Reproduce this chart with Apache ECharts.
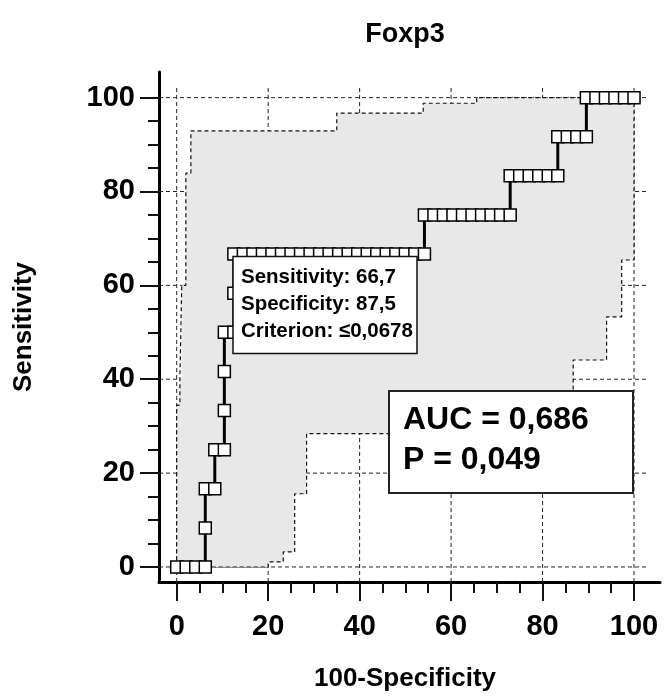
<!DOCTYPE html>
<html>
<head>
<meta charset="utf-8">
<script src="https://cdn.jsdelivr.net/npm/echarts@6/dist/echarts.min.js"></script>
<style>html,body{margin:0;padding:0;background:#fff}#c{width:664px;height:697px}</style>
</head>
<body>
<div id="c"></div>
<script>
// ---- data ----
const titleText = 'Foxp3';
const xName = '100-Specificity';
const yName = 'Sensitivity';
const majorTicks = [0, 20, 40, 60, 80, 100];
const minorTicks = [5, 10, 15, 25, 30, 35, 45, 50, 55, 65, 70, 75, 85, 90, 95];
// ROC curve points (100-Specificity, Sensitivity)
const rocX = [0, 2.08, 4.17, 6.25, 6.25, 6.25, 8.33, 8.33, 10.42, 10.42, 10.42, 10.42, 12.5, 12.5, 12.5,
  14.58, 16.67, 18.75, 20.83, 22.92, 25, 27.08, 29.17, 31.25, 33.33, 35.42, 37.5, 39.58, 41.67, 43.75, 45.83, 47.92, 50, 52.08, 54.17,
  54.17, 56.25, 58.33, 60.42, 62.5, 64.58, 66.67, 68.75, 70.83, 72.92,
  72.92, 75, 77.08, 79.17, 81.25, 83.33,
  83.33, 85.42, 87.5, 89.58,
  89.58, 91.67, 93.75, 95.83, 97.92, 100];
const rocY = [0, 0, 0, 0, 8.33, 16.67, 16.67, 25, 25, 33.33, 41.67, 50, 50, 58.33, 66.67,
  66.67, 66.67, 66.67, 66.67, 66.67, 66.67, 66.67, 66.67, 66.67, 66.67, 66.67, 66.67, 66.67, 66.67, 66.67, 66.67, 66.67, 66.67, 66.67, 66.67,
  75, 75, 75, 75, 75, 75, 75, 75, 75, 75,
  83.33, 83.33, 83.33, 83.33, 83.33, 83.33,
  91.67, 91.67, 91.67, 91.67,
  100, 100, 100, 100, 100, 100];
// 95% confidence bounds
const upperX = [0, 0, 0.7, 0.7, 1.1, 1.1, 2.0, 2.0, 3.1, 3.1, 35.0, 35.0, 53.9, 53.9, 65.6, 65.6, 100];
const upperY = [0, 34.5, 34.5, 40.2, 40.2, 60, 60, 83.9, 83.9, 92.9, 92.9, 96.7, 96.7, 98.8, 98.8, 100, 100];
const lowerX = [0, 20, 20, 23.3, 23.3, 25.8, 25.8, 28.4, 28.4, 86.7, 86.7, 94.0, 94.0, 97.3, 97.3, 100, 100];
const lowerY = [0, 0, 1.1, 1.1, 3.2, 3.2, 15.6, 15.6, 28.4, 28.4, 44.1, 44.1, 53.3, 53.3, 65.4, 65.4, 100];
const criterionLines = ['Sensitivity: 66,7', 'Specificity: 87,5', 'Criterion: \u22640,0678'];
const statLines = ['AUC = 0,686', 'P = 0,049'];

// ---- chart ----
const FONT = '"Liberation Sans", Arial, sans-serif';
const X_MIN = -3.87, X_MAX = 105.68, Y_MIN = -3.2, Y_MAX = 105.46;
const GRID_END = 103;

const zip = (a, b) => a.map((v, i) => [v, b[i]]);
const rocData = zip(rocX, rocY);
const upperData = zip(upperX, upperY);
const lowerData = zip(lowerX, lowerY);

const chart = echarts.init(document.getElementById('c'), null, {renderer: 'canvas'});

const gridStyle = {stroke: '#222', lineWidth: 1, lineDash: [4, 3]};
const boldText = (size) => ({fontFamily: FONT, fontWeight: 'bold', fontSize: size, fill: '#000'});

const option = {
  animation: false,
  backgroundColor: '#fff',
  grid: {left: 159, right: 4, top: 72, bottom: 115, containLabel: false},
  xAxis: [{
    type: 'value', min: X_MIN, max: X_MAX, position: 'bottom',
    axisLine: {show: true, onZero: false, lineStyle: {color: '#000', width: 3}},
    axisTick: {show: true, customValues: majorTicks, length: 19, lineStyle: {color: '#111', width: 2}},
    axisLabel: {show: true, customValues: majorTicks, margin: 30, fontFamily: FONT, fontWeight: 'bold', fontSize: 29, color: '#000'},
    splitLine: {show: false}
  }, {
    type: 'value', min: X_MIN, max: X_MAX, position: 'bottom',
    axisLine: {show: false, onZero: false},
    axisTick: {show: true, customValues: minorTicks, length: 11, lineStyle: {color: '#111', width: 2}},
    axisLabel: {show: false},
    splitLine: {show: false}
  }],
  yAxis: [{
    type: 'value', min: Y_MIN, max: Y_MAX, position: 'left',
    name: yName, nameLocation: 'middle', nameGap: 122, nameRotate: 90,
    nameTextStyle: {fontFamily: FONT, fontWeight: 'bold', fontSize: 26, color: '#000'},
    axisLine: {show: true, onZero: false, lineStyle: {color: '#000', width: 3}},
    axisTick: {show: true, customValues: majorTicks, length: 19, lineStyle: {color: '#111', width: 2}},
    axisLabel: {show: true, customValues: majorTicks, margin: 24, fontFamily: FONT, fontWeight: 'bold', fontSize: 29, color: '#000'},
    splitLine: {show: false}
  }, {
    type: 'value', min: Y_MIN, max: Y_MAX, position: 'left',
    axisLine: {show: false, onZero: false},
    axisTick: {show: true, customValues: minorTicks, length: 11, lineStyle: {color: '#111', width: 2}},
    axisLabel: {show: false},
    splitLine: {show: false}
  }],
  series: [
    { // horizontal grid lines
      type: 'custom', z: 1, silent: true,
      data: majorTicks.map(v => [v]),
      renderItem: (params, api) => {
        const v = api.value(0);
        const p1 = api.coord([X_MIN, v]), p2 = api.coord([GRID_END, v]);
        return {type: 'line', shape: {x1: p1[0], y1: p1[1], x2: p2[0], y2: p2[1]}, style: gridStyle};
      }
    },
    { // vertical grid lines
      type: 'custom', z: 1, silent: true,
      data: majorTicks.map(v => [v]),
      renderItem: (params, api) => {
        const v = api.value(0);
        const p1 = api.coord([v, Y_MIN]), p2 = api.coord([v, GRID_END - 0.7]);
        return {type: 'line', shape: {x1: p1[0], y1: p1[1], x2: p2[0], y2: p2[1]}, style: gridStyle};
      }
    },
    { // confidence band fill
      type: 'custom', z: 2, silent: true,
      data: [[0]],
      renderItem: (params, api) => {
        const pts = upperData.concat(lowerData.slice().reverse()).map(p => api.coord(p));
        return {type: 'polygon', shape: {points: pts}, style: {fill: '#e8e8e8', stroke: null}};
      }
    },
    {
      type: 'line', z: 3, data: upperData, showSymbol: false, silent: true,
      lineStyle: {color: '#111', width: 1.2, type: [4, 3]}
    },
    {
      type: 'line', z: 3, data: lowerData, showSymbol: false, silent: true,
      lineStyle: {color: '#111', width: 1.2, type: [4, 3]}
    },
    {
      type: 'line', z: 5, data: rocData, symbol: 'rect', symbolSize: [12, 12], showSymbol: true,
      showAllSymbol: true,
      lineStyle: {color: '#000', width: 3},
      itemStyle: {color: '#fff', borderColor: '#000', borderWidth: 1.5}
    }
  ],
  graphic: [
    {type: 'text', x: 405, y: 21, style: Object.assign(boldText(27), {text: titleText, textAlign: 'center', textVerticalAlign: 'top'}), z: 100},
    {type: 'text', x: 405, y: 666, style: Object.assign(boldText(26), {text: xName, textAlign: 'center', textVerticalAlign: 'top'}), z: 100},
    {type: 'rect', shape: {x: 233, y: 256.5, width: 184, height: 97}, style: {fill: '#fff', stroke: '#111', lineWidth: 1.5}, z: 100},
    {type: 'text', x: 241, y: 277, style: Object.assign(boldText(20.5), {text: criterionLines[0], textVerticalAlign: 'middle'}), z: 101},
    {type: 'text', x: 241, y: 304, style: Object.assign(boldText(20.5), {text: criterionLines[1], textVerticalAlign: 'middle'}), z: 101},
    {type: 'text', x: 241, y: 331, style: Object.assign(boldText(20.5), {text: criterionLines[2], textVerticalAlign: 'middle'}), z: 101},
    {type: 'rect', shape: {x: 389, y: 391, width: 244, height: 102}, style: {fill: '#fff', stroke: '#222', lineWidth: 2}, z: 100},
    {type: 'text', x: 403, y: 420, style: Object.assign(boldText(32), {text: statLines[0], textVerticalAlign: 'middle'}), z: 101},
    {type: 'text', x: 403, y: 460, style: Object.assign(boldText(32), {text: statLines[1], textVerticalAlign: 'middle'}), z: 101}
  ]
};
chart.setOption(option);
</script>
</body>
</html>
